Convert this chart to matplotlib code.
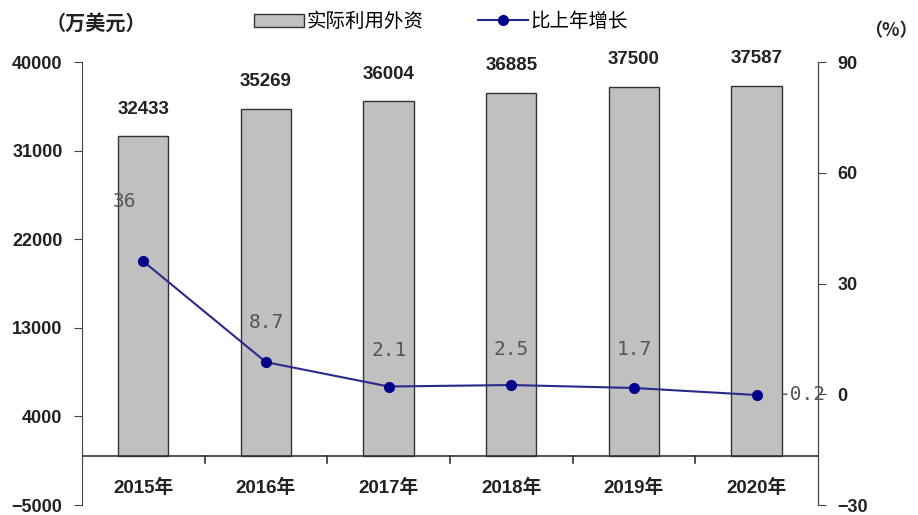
import matplotlib.pyplot as plt
import numpy as np
from matplotlib.patches import Patch
from matplotlib.lines import Line2D

plt.rcParams['font.family'] = ['Liberation Sans', 'Noto Sans CJK SC', 'DejaVu Sans']

years = ["2015年", "2016年", "2017年", "2018年", "2019年", "2020年"]
invest = [32433, 35269, 36004, 36885, 37500, 37587]
growth = [36, 8.7, 2.1, 2.5, 1.7, -0.2]
growth_labels = ["36", "8.7", "2.1", "2.5", "1.7", "-0.2"]

fig = plt.figure(figsize=(9.18, 5.15), dpi=100)
ax = fig.add_axes([0.0893, 0.0194, 0.8017, 0.8602])
x = np.arange(len(years))

ax.bar(x, invest, width=0.41, color="#c0c0c0", edgecolor="#333333", linewidth=1.0, zorder=2)
for xi, v in zip(x, invest):
    ax.text(xi, v + 2750, str(v), ha="center", va="center", fontsize=13.5,
            fontweight="bold", color="#222222")

ax.set_xlim(-0.5, 5.5)
ax.set_ylim(-5000, 40000)
ax.set_yticks(np.arange(-5000, 40001, 9000))
ax.axhline(0, color="#333333", linewidth=1.2, zorder=3)
for s in ["top", "bottom"]:
    ax.spines[s].set_visible(False)
ax.spines["left"].set_color("#444444")
ax.tick_params(axis="y", direction="out", length=6, pad=8, color="#444444", labelsize=13,
               labelcolor="#222222")
for lab in ax.get_yticklabels():
    lab.set_fontweight("bold")

ax.set_xticks([])
for b in np.arange(0.5, 5.0, 1.0):
    ax.plot([b, b], [0, -700], color="#333333", linewidth=1.2, clip_on=False, zorder=3)
for xi, yl in zip(x, years):
    ax.text(xi, -3300, yl, ha="center", va="center", fontsize=13.5, fontweight="bold",
            color="#222222")

ax2 = ax.twinx()
ax2.set_ylim(-30, 90)
ax2.set_yticks(np.arange(-30, 91, 30))
for s in ["top", "bottom", "left"]:
    ax2.spines[s].set_visible(False)
ax2.spines["right"].set_color("#444444")
ax2.tick_params(axis="y", direction="out", length=6, pad=8, color="#444444", labelsize=13,
                labelcolor="#222222")
for lab in ax2.get_yticklabels():
    lab.set_fontweight("bold")

ax2.plot(x, growth, color="#2a2a8a", linewidth=1.5, marker="o", markersize=7,
         markerfacecolor="#00008b", markeredgecolor="#00008b", zorder=4)

offsets = [(-0.15, 16.3), (0, 10.8), (0, 9.7), (0, 9.5), (0, 10.5), (0.37, 0)]
for xi, g, lab, (dx, dy) in zip(x, growth, growth_labels, offsets):
    ax2.text(xi + dx, g + dy, lab, ha="center", va="center", fontsize=14,
             color="#555555", family=["DejaVu Sans Mono"])

fig.text(0.105, 0.955, "（万美元）", ha="center", va="center", fontsize=14.5,
         fontweight="bold", color="#222222", family=["Noto Sans CJK SC", "DejaVu Sans"])
fig.text(0.97, 0.94, "（%）", ha="center", va="center", fontsize=13,
         fontweight="bold", color="#222222", family=["Noto Sans CJK SC", "DejaVu Sans"])

handles = [Patch(facecolor="#c0c0c0", edgecolor="#333333", label="实际利用外资"),
           Line2D([0], [0], color="#2a2a8a", linewidth=1.5, marker="o", markersize=7,
                  markerfacecolor="#00008b", markeredgecolor="#00008b", label="比上年增长")]
fig.legend(handles=handles, loc="center", bbox_to_anchor=(0.48, 0.958), ncol=2,
           frameon=False, handlelength=2.6, handletextpad=0.1, columnspacing=2.8,
           prop={"family": ["Noto Sans CJK SC"], "size": 14})

fig.savefig("out.png", dpi=100)
